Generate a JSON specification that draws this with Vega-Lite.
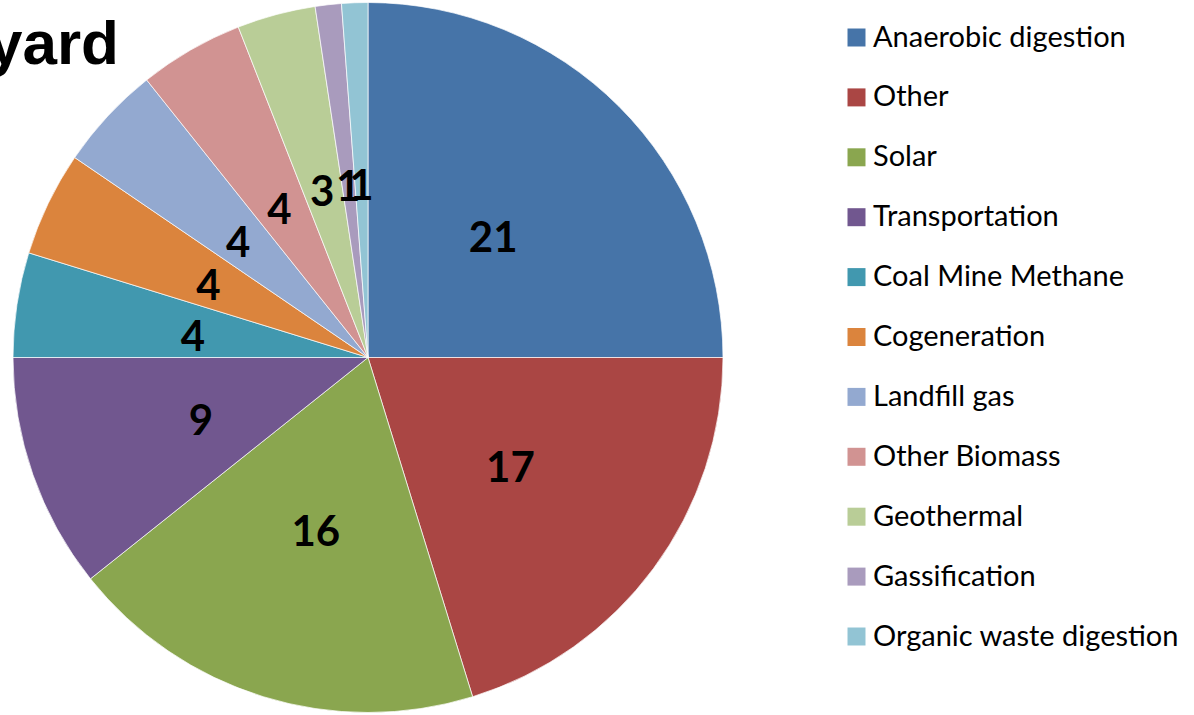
{
  "$schema": "https://vega.github.io/schema/vega-lite/v6.json",
  "width": 736,
  "height": 715,
  "padding": {"left": 0, "top": 0, "right": 458, "bottom": 0},
  "autosize": {"type": "none"},
  "background": "white",
  "title": {"text": "yard", "anchor": "start", "frame": "group", "font": "Liberation Sans", "fontSize": 62, "fontWeight": "bold", "color": "black", "dx": -12, "offset": -126, "baseline": "alphabetic"},
  "view": {"stroke": null},
  "data": {"values": [
    {"type": "Anaerobic digestion", "count": 21, "rank": 1},
    {"type": "Other", "count": 17, "rank": 2},
    {"type": "Solar", "count": 16, "rank": 3},
    {"type": "Transportation", "count": 9, "rank": 4},
    {"type": "Coal Mine Methane", "count": 4, "rank": 5},
    {"type": "Cogeneration", "count": 4, "rank": 6},
    {"type": "Landfill gas", "count": 4, "rank": 7},
    {"type": "Other Biomass", "count": 4, "rank": 8},
    {"type": "Geothermal", "count": 3, "rank": 9},
    {"type": "Gassification", "count": 1, "rank": 10},
    {"type": "Organic waste digestion", "count": 1, "rank": 11}
  ]},
  "encoding": {
    "theta": {"field": "count", "type": "quantitative", "stack": true},
    "order": {"field": "rank", "type": "quantitative"}
  },
  "layer": [
    {
      "mark": {"type": "arc", "outerRadius": 355, "stroke": "white", "strokeWidth": 0.7},
      "encoding": {
        "color": {
          "field": "type", "type": "nominal",
          "sort": ["Anaerobic digestion", "Other", "Solar", "Transportation", "Coal Mine Methane", "Cogeneration", "Landfill gas", "Other Biomass", "Geothermal", "Gassification", "Organic waste digestion"],
          "scale": {
            "domain": ["Anaerobic digestion", "Other", "Solar", "Transportation", "Coal Mine Methane", "Cogeneration", "Landfill gas", "Other Biomass", "Geothermal", "Gassification", "Organic waste digestion"],
            "range": ["#4674A8", "#AA4644", "#8AA64F", "#71578F", "#4198AF", "#DB843D", "#93A9D0", "#D19392", "#B9CD97", "#A99BBD", "#92C4D4"]
          },
          "legend": {
            "title": null, "orient": "none", "legendX": 842, "legendY": 23,
            "symbolType": "square", "symbolSize": 324, "symbolStrokeWidth": 0,
            "labelFont": "Lato", "labelFontSize": 29, "labelColor": "black",
            "labelOffset": 2, "rowPadding": 29.9, "labelLimit": 400
          }
        }
      }
    },
    {
      "mark": {"type": "text", "radius": 177, "dy": 6.5, "font": "Lato", "fontSize": 42, "fontWeight": "bold", "color": "black"},
      "encoding": {"text": {"field": "count", "type": "quantitative"}}
    }
  ]
}
